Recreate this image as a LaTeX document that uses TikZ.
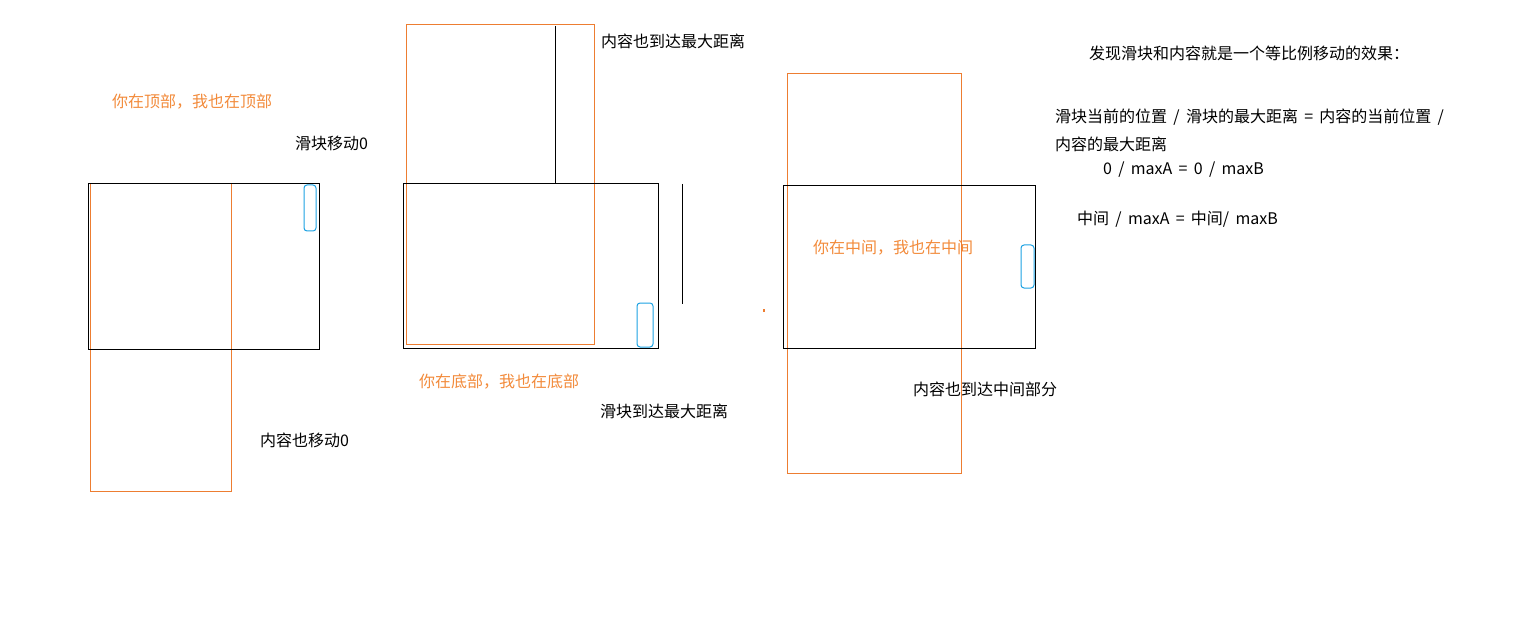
\documentclass[tikz,border=0pt]{standalone}
\usepackage{fontspec}
\setmainfont{Noto Sans CJK SC}[WordSpace=1.75]
\usetikzlibrary{positioning}
\definecolor{boxorange}{HTML}{ED7D31}
\definecolor{txtorange}{HTML}{F28A3A}
\definecolor{barblue}{HTML}{1BA1E2}
\tikzset{
  view/.style = {draw=black, line width=1pt},
  content/.style = {draw=boxorange, line width=1pt},
  bar/.style = {draw=barblue, line width=1pt, rounded corners=3pt},
  note/.style = {anchor=west, inner sep=0pt, font=\fontsize{16}{19}\selectfont},
  hint/.style = {note, text=txtorange}
}

\begin{document}
\begin{tikzpicture}[x=1pt, y=-1pt]
\useasboundingbox (0,0) rectangle (1538,644);

% slider at the top
\draw[content] (90,184) rectangle (231,491);
\draw[view] (88,184) rectangle (319,349);
\draw[bar] (304,185) rectangle (316,231);
\node[hint] (topHint) at (112,102) {你在顶部，我也在顶部};
\node[note] (topBar) at (295,143) {滑块移动0};
\node[note] (topContent) at (260,440) {内容也移动0};

% slider at the bottom
\draw[content] (406,25) rectangle (594,344);
\draw[view] (403,184) rectangle (658,348);
\draw[view] (555,26) -- (555,184);
\draw[view] (682,184) -- (682,304);
\draw[bar] (637,303) rectangle (653,347);
\fill[boxorange] (763,309) rectangle (765,312);
\node[note] (endContent) at (601,41) {内容也到达最大距离};
\node[hint] (endHint) at (419,382) {你在底部，我也在底部};
\node[note] (endBar) at (600,411) {滑块到达最大距离};

% slider in the middle
\draw[content] (787,74) rectangle (961,473);
\draw[view] (783,186) rectangle (1035,348);
\draw[bar] (1021,245) rectangle (1034,288);
\node[hint] (midHint) at (813,248) {你在中间，我也在中间};
\node[note] (midContent) at (913,389) {内容也到达中间部分};

% the rule
\node[note] (ruleHead) at (1089,53) {发现滑块和内容就是一个等比例移动的效果：};
\node[note] (ruleA) at (1055,117) {滑块当前的位置 / 滑块的最大距离 = 内容的当前位置 /};
\node[note] (ruleB) at (1055,144) {内容的最大距离};
\node[note] (ruleC) at (1103,170) {0 / maxA = 0 / maxB};
\node[note] (ruleD) at (1077,219) {中间 / maxA = 中间/ maxB};
\end{tikzpicture}
\end{document}
